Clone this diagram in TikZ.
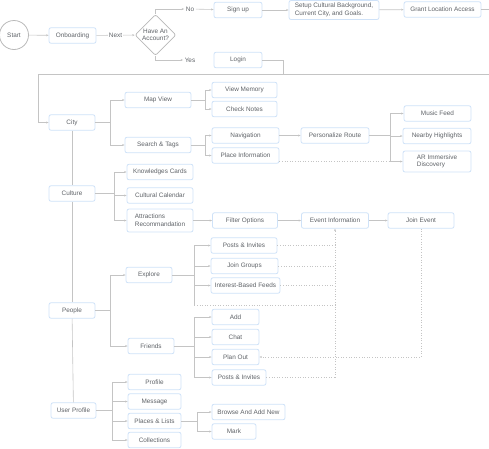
\documentclass[tikz,border=0pt]{standalone}
\usepackage{fontspec}
\setmainfont{Liberation Sans}
\usetikzlibrary{arrows.meta,shapes.geometric}
\definecolor{boxblue}{HTML}{CFE2F8}
\definecolor{txtgray}{HTML}{5F6368}
\definecolor{linegray}{HTML}{C4C4C4}

\begin{document}
\begin{tikzpicture}[x=1pt,y=-1pt,
  every node/.style={font=\fontsize{6.4}{7.6}\selectfont, text=txtgray, inner sep=1.5pt},
  box/.style={draw=boxblue, fill=white, rounded corners=2pt, line width=0.8pt, minimum height=15.5pt, inner sep=1pt},
  link/.style={draw=linegray, line width=0.6pt},
  arr/.style={link, -{Stealth[length=2.5pt,width=2pt]}},
  dotlink/.style={link, dotted}]
  \useasboundingbox (0,0) rectangle (489,448);
  \clip (0,0) rectangle (489,448);

  \node[draw=gray!55, line width=0.8pt, circle, minimum size=29pt] (start) at (14,35) {Start};
  \node[box, minimum width=47pt] (onb) at (72.5,35.5) {Onboarding};
  \node[draw=gray!55, line width=0.8pt, fill=white, diamond, aspect=1, minimum size=41pt, inner sep=0pt, rounded corners=2pt, align=center] (acct) at (155.5,35) {Have An\\Account?};
  \node (no) at (190,9) {No};
  \node (yes) at (190,60) {Yes};
  \node[box, minimum width=48pt] (signup) at (238,10) {Sign up};
  \node[box, minimum width=90pt, minimum height=19pt, align=left] (setup) at (334,10) {Setup Cultural Background,\\Current City, and Goals.};
  \node[box, minimum width=77pt] (grant) at (442.5,9.5) {Grant Location Access};
  \node[box, minimum width=48pt] (login) at (238,60) {Login};

  \node[box, minimum width=46pt] (city) at (72,122.5) {City};
  \node[box, minimum width=46pt] (culture) at (72,193.5) {Culture};
  \node[box, minimum width=46pt] (people) at (72,310.5) {People};
  \node[box, minimum width=45pt] (uprof) at (73.5,410.5) {User Profile};

  \node[box, minimum width=66pt] (mapview) at (158,100) {Map View};
  \node[box, minimum width=65pt] (viewmem) at (244.5,90) {View Memory};
  \node[box, minimum width=65pt] (checknotes) at (244.5,109) {Check Notes};
  \node[box, minimum width=66pt] (search) at (158,145) {Search \& Tags};
  \node[box, minimum width=67pt] (nav) at (245.5,135.5) {Navigation};
  \node[box, minimum width=67pt] (placeinfo) at (245.5,155.5) {Place Information};
  \node[box, minimum width=68pt] (route) at (335,135.5) {Personalize Route};
  \node[box, minimum width=67pt] (music) at (437.5,113.5) {Music Feed};
  \node[box, minimum width=68pt] (nearby) at (437,136) {Nearby Highlights};
  \node[box, minimum width=68pt, minimum height=21pt, align=left] (ardisc) at (437,161.5) {AR Immersive\\Discovery};

  \node[box, minimum width=66pt] (know) at (160,172) {Knowledges Cards};
  \node[box, minimum width=66pt] (calendar) at (160,195.5) {Cultural Calendar};
  \node[box, minimum width=66pt, minimum height=23pt, align=left] (attract) at (160,220.5) {Attractions\\Recommandation};
  \node[box, minimum width=65pt] (filter) at (245,220.5) {Filter Options};
  \node[box, minimum width=67pt] (event) at (335,220.5) {Event Information};
  \node[box, minimum width=66pt] (join) at (421,220.5) {Join Event};

  \node[box, minimum width=46pt] (explore) at (149,275) {Explore};
  \node[box, minimum width=46pt] (friends) at (151,346) {Friends};
  \node[box, minimum width=66pt] (posts1) at (244,245.5) {Posts \& Invites};
  \node[box, minimum width=67pt] (groups) at (244.5,266) {Join Groups};
  \node[box, minimum width=69pt] (feeds) at (245.5,285.5) {Interest-Based Feeds};
  \node[box, minimum width=47pt] (add) at (235.5,317) {Add};
  \node[box, minimum width=47pt] (chat) at (235.5,337) {Chat};
  \node[box, minimum width=47pt] (planout) at (235.5,357) {Plan Out};
  \node[box, minimum width=54pt] (posts2) at (239,377.5) {Posts \& Invites};

  \node[box, minimum width=53pt] (profile) at (154.5,382) {Profile};
  \node[box, minimum width=53pt] (message) at (154.5,401.5) {Message};
  \node[box, minimum width=53pt] (places) at (154.5,421) {Places \& Lists};
  \node[box, minimum width=53pt] (collect) at (154.5,440) {Collections};
  \node[box, minimum width=73pt] (browse) at (248.5,412) {Browse And Add New};
  \node[box, minimum width=44pt] (mark) at (234,431.5) {Mark};

  \draw[arr] (start) -- (onb);
  \draw[arr] (onb) -- node[fill=white, inner sep=1pt] {Next} (acct);
  \draw[arr] (acct.north) |- (no);
  \draw[arr] (acct.south) |- (yes);
  \draw[arr] (no) -- (signup);
  \draw[arr] (signup) -- (setup);
  \draw[arr] (setup) -- (grant);
  \coordinate (wrapR) at (500,74);
  \coordinate (wrapL) at (38,74);
  \draw[arr] (grant.east) -| (wrapR) -- (wrapL) |- (city);
  \draw[link] (login.east) -- +(21,0) -- +(21,14);

  \draw[link] (city) -- (culture);
  \draw[link] (culture) -- (people);
  \draw[link] (people) -- (uprof);

  \draw[arr] (city.east) -- +(15,0) |- (mapview);
  \draw[arr] (city.east) -- +(15,0) |- (search);
  \draw[arr] (mapview.east) -- +(14,0) |- (viewmem);
  \draw[arr] (mapview.east) -- +(14,0) |- (checknotes);
  \draw[arr] (search.east) -- +(14,0) |- (nav);
  \draw[arr] (search.east) -- +(14,0) |- (placeinfo);
  \draw[arr] (nav) -- (route);
  \path (route.east) ++(21,0) coordinate (routeBr);
  \draw[arr] (route.east) -- (routeBr) |- (music);
  \draw[arr] (routeBr) |- (nearby);
  \draw[arr] (routeBr) |- (ardisc);
  \draw[dotlink] (placeinfo.east |- ardisc) -- (routeBr |- ardisc);

  \draw[arr] (culture.east) -- +(19,0) |- (know);
  \draw[arr] (culture.east) -- +(19,0) |- (calendar);
  \draw[arr] (culture.east) -- +(19,0) |- (attract);
  \draw[arr] (attract) -- (filter);
  \draw[arr] (filter) -- (event);
  \draw[arr] (event) -- (join);

  \draw[arr] (people.east) -- +(15,0) |- (explore);
  \draw[arr] (people.east) -- +(15,0) |- (friends);
  \path (explore.east) ++(22,0) coordinate (exBr);
  \path (exBr) ++(0,30) coordinate (exLow);
  \draw[arr] (explore.east) -- (exBr) |- (posts1);
  \draw[arr] (exBr) |- (groups);
  \draw[arr] (exBr) |- (feeds);
  \draw[link] (exBr) -- (exLow);
  \draw[arr] (friends.east) -- +(20,0) |- (add);
  \draw[arr] (friends.east) -- +(20,0) |- (chat);
  \draw[arr] (friends.east) -- +(20,0) |- (planout);
  \draw[arr] (friends.east) -- +(20,0) |- (posts2);

  \draw[dotlink] (posts1) -- (posts1 -| event.south);
  \draw[dotlink] (groups) -- (groups -| event.south);
  \draw[dotlink] (feeds) -- (feeds -| event.south);
  \draw[dotlink] (exLow) -- (exLow -| event.south);
  \draw[dotlink] (posts2) -- (posts2 -| event.south);
  \draw[dotlink, -{Stealth[length=2.5pt,width=2pt]}] (posts2 -| event.south) -- (event.south);
  \draw[dotlink, -{Stealth[length=2.5pt,width=2pt]}] (join.south) |- (planout.east);

  \draw[arr] (uprof.east) -- +(16,0) |- (profile);
  \draw[arr] (uprof.east) -- +(16,0) |- (message);
  \draw[arr] (uprof.east) -- +(16,0) |- (places);
  \draw[arr] (uprof.east) -- +(16,0) |- (collect);
  \draw[arr] (places.east) -- +(16,0) |- (browse);
  \draw[arr] (places.east) -- +(16,0) |- (mark);
\end{tikzpicture}
\end{document}
